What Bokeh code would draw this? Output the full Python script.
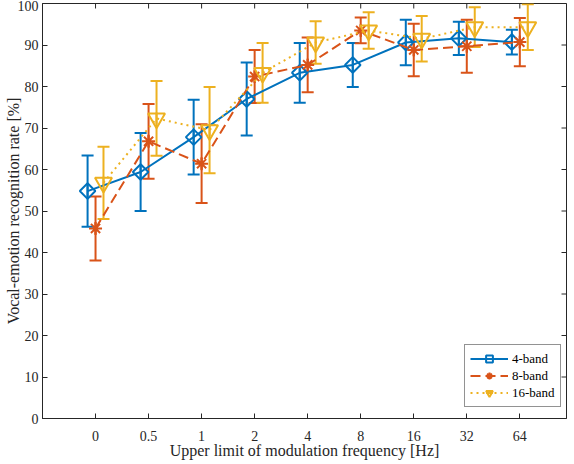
import numpy as np
from bokeh.plotting import figure
from bokeh.models import (ColumnDataSource, Whisker, TeeHead, FixedTicker,
                          Legend, LegendItem, Range1d)
from bokeh.embed import file_html
from bokeh.resources import INLINE

categories = ["0", "0.5", "1", "2", "4", "8", "16", "32", "64"]
y_ticks = [0, 10, 20, 30, 40, 50, 60, 70, 80, 90, 100]

band4_mean = [54.8, 59.4, 67.8, 77.0, 83.3, 85.2, 90.6, 91.6, 90.7]
band4_err = [8.6, 9.4, 9.0, 8.8, 7.2, 5.3, 5.5, 4.0, 3.0]

band8_mean = [45.8, 66.8, 61.4, 82.4, 85.2, 93.5, 88.8, 89.7, 90.7]
band8_err = [7.7, 9.0, 9.5, 6.4, 6.6, 3.1, 6.3, 6.4, 5.8]

band16_mean = [56.8, 72.3, 69.5, 83.3, 90.6, 93.5, 91.5, 94.3, 94.3]
band16_err = [8.7, 9.0, 10.4, 7.2, 5.1, 4.4, 5.5, 4.8, 5.5]

series_names = ["4-band", "8-band", "16-band"]
series_colors = ["#0072BD", "#D95319", "#EDB120"]

FONT = "Liberation Serif"
AX = "#262626"

X_END = 9.88
p = figure(width=574, height=464, x_range=Range1d(0, X_END), y_range=Range1d(0, 100),
           output_backend="svg", toolbar_location=None,
           min_border_left=42, min_border_right=8, min_border_top=3, min_border_bottom=46)
p.grid.visible = False
p.outline_line_color = AX
p.outline_line_width = 1
p.background_fill_color = "white"
p.border_fill_color = "white"

pos = np.arange(1, len(categories) + 1)

# axes
p.xaxis.ticker = FixedTicker(ticks=list(pos))
p.xaxis.major_label_overrides = {int(k): v for k, v in zip(pos, categories)}
p.yaxis.ticker = FixedTicker(ticks=y_ticks)
for ax in (p.xaxis[0], p.yaxis[0]):
    ax.major_tick_in = 5
    ax.major_tick_out = 0
    ax.minor_tick_line_color = None
    ax.axis_line_color = AX
    ax.major_tick_line_color = AX
    ax.major_label_text_font = FONT
    ax.major_label_text_font_size = "14px"
    ax.major_label_text_color = AX
    ax.axis_label_text_font = FONT
    ax.axis_label_text_font_size = "16px"
    ax.axis_label_text_font_style = "normal"
    ax.axis_label_text_color = AX
p.xaxis.axis_label = "Upper limit of modulation frequency [Hz]"
p.yaxis.axis_label = "Vocal-emotion recognition rate [%]"
p.xaxis.major_label_standoff = 12
p.xaxis.axis_label_standoff = -2
p.yaxis.major_label_standoff = 4
p.yaxis.axis_label_standoff = -7

# mirrored inward ticks on top and right edges (clipped to the frame)
p.scatter(x=list(pos), y=[100] * len(pos), marker="dash", size=10, angle=np.pi / 2,
          line_color=AX, line_width=1)
p.scatter(x=[X_END] * len(y_ticks), y=y_ticks, marker="dash", size=10,
          line_color=AX, line_width=1)

offsets = [-0.15, 0.0, 0.15]
means = [band4_mean, band8_mean, band16_mean]
errs = [band4_err, band8_err, band16_err]
dashes = ["solid", "10 5", "2 4"]
markers = ["square", "asterisk", "inverted_triangle"]
msizes = [11, 13, 17]
angles = [np.pi / 4, 0, 0]

items = []
for name, col, off, m, e, d, mk, ms, ang in zip(series_names, series_colors, offsets, means,
                                                  errs, dashes, markers, msizes, angles):
    m = np.array(m)
    e = np.array(e)
    src = ColumnDataSource(dict(x=pos + off, y=m, lo=m - e, hi=m + e))
    w = Whisker(source=src, base="x", upper="hi", lower="lo", dimension="height",
                line_color=col, line_width=2,
                upper_head=TeeHead(size=12, line_color=col, line_width=2),
                lower_head=TeeHead(size=12, line_color=col, line_width=2))
    p.add_layout(w)
    ln = p.line("x", "y", source=src, line_color=col, line_width=2, line_dash=d)
    bar = p.scatter("x", "y", source=src, marker="dash", size=12, angle=np.pi / 2,
                    line_color=col, line_width=2)
    sc = p.scatter("x", "y", source=src, marker=mk, size=ms, angle=ang,
                   line_color=col, line_width=2, fill_color=None)
    items.append(LegendItem(label=name, renderers=[ln, bar, sc]))

legend = Legend(items=items, location=(422, 11), margin=0, padding=5, spacing=0,
                glyph_width=38, glyph_height=17, label_standoff=4,
                label_text_font=FONT, label_text_font_size="13px", label_text_color="black",
                border_line_color=AX, border_line_width=1, background_fill_alpha=1)
p.add_layout(legend, "center")

open("out.html", "w").write(file_html(p, INLINE))
